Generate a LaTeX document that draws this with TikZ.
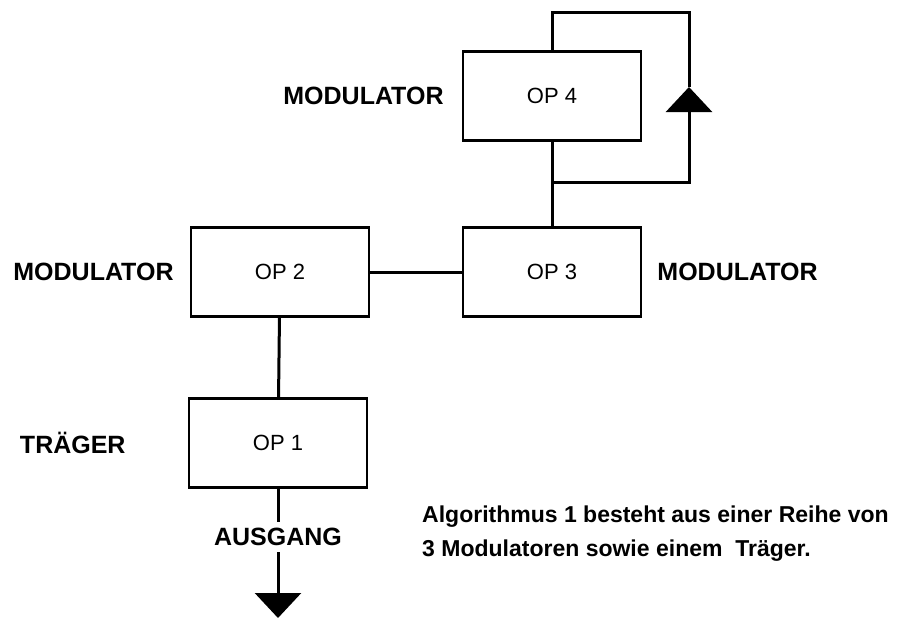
\documentclass[tikz,border=0pt]{standalone}
\usepackage{fontspec}
\setmainfont{Liberation Sans}
\usetikzlibrary{positioning, arrows.meta}

\tikzset{
  opbox/.style={draw, line width=2.5pt, minimum width=178pt, minimum height=89pt,
    inner sep=0pt, font=\fontsize{22}{26}\selectfont},
  lbl/.style={inner sep=0pt, font=\bfseries\fontsize{25}{28}\selectfont},
  wire/.style={line width=3pt},
}

\begin{document}
\begin{tikzpicture}[x=1pt, y=-1pt, >={Triangle[width=46pt, length=25pt]}]
    \useasboundingbox (0,0) rectangle (910,618);

    % Operators
    \node[opbox] (op4) at (552,96) {OP 4};
    \node[opbox] (op3) at (552,272) {OP 3};
    \node[opbox] (op2) at (280,272) {OP 2};
    \node[opbox] (op1) at (278,443) {OP 1};

    % Labels
    \node[lbl, left=18pt of op4] (mod4) {MODULATOR};
    \node[lbl, right=15pt of op3] (mod3) {MODULATOR};
    \node[lbl, left=16pt of op2] (mod2) {MODULATOR};
    \node[lbl, left=62pt of op1] (traeger) {TRÄGER};
    \node[lbl, inner sep=6pt] (ausgang) at (278,537) {AUSGANG};

    % Connections
    \draw[wire] (op2) -- (op3);
    \draw[wire] (op4) -- (op3);
    \draw[wire] (op1) -- (op2);

    % Feedback of OP 4
    \coordinate (junc) at (552,182);
    \coordinate (fbtip) at (689,87);
    \coordinate (fbtop) at (689,13);
    \draw[wire, ->] (junc) -| (fbtip);
    \draw[wire] (fbtip) -- (fbtop) -| (op4.north);

    % Output
    \coordinate (out) at (278,618);
    \draw[wire] (op1) -- (ausgang);
    \draw[wire, ->] (ausgang) -- (out);

    % Caption
    \node[anchor=north west, align=left, inner sep=0pt,
      font=\bfseries\fontsize{23}{34}\selectfont] (caption) at (422,506)
      {Algorithmus 1 besteht aus einer Reihe von\\
       3 Modulatoren sowie einem\ \ Träger.};
\end{tikzpicture}
\end{document}
